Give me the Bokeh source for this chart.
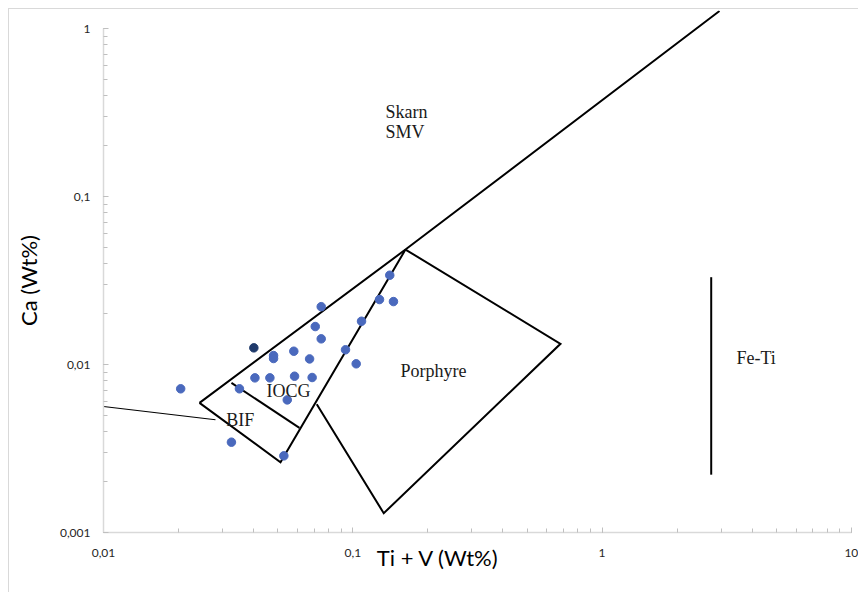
from bokeh.plotting import figure
from bokeh.models import Range1d, Label, CustomJSTickFormatter
from bokeh.embed import file_html
from bokeh.resources import INLINE

# ---- data: samples (Ti+V wt%, Ca wt%) ----
sample_tiv = [0.0204, 0.0326, 0.0351, 0.0405, 0.0465, 0.0481, 0.0481, 0.0529,
              0.0546, 0.0580, 0.0584, 0.0671, 0.0687, 0.0707, 0.0747, 0.0747,
              0.0935, 0.1032, 0.1084, 0.1280, 0.1456, 0.1407]
sample_ca = [0.00717, 0.00345, 0.00717, 0.00833, 0.00833, 0.01131, 0.01086, 0.00286,
             0.00616, 0.01200, 0.00852, 0.01080, 0.00837, 0.01683, 0.02210, 0.01422,
             0.01224, 0.01010, 0.01810, 0.02437, 0.02370, 0.03400]
dark_tiv = [0.0401]
dark_ca = [0.01257]

# ---- field boundaries ----
skarn_x = [0.02427, 0.1627, 2.958]
skarn_y = [0.005916, 0.04835, 1.27]
iocg_bif_x = [0.02427, 0.05129, 0.1627]
iocg_bif_y = [0.005916, 0.00262, 0.04835]
divider_x = [0.0326, 0.0611]
divider_y = [0.00778, 0.0042]
porphyre_x = [0.0717, 0.1331, 0.681, 0.1627]
porphyre_y = [0.0058, 0.001303, 0.01328, 0.04835]
bif_lead_x = [0.01, 0.02813]
bif_lead_y = [0.00562, 0.00469]
feti_x = [2.74, 2.74]
feti_y = [0.0331, 0.00221]

# ---- field names and anchor points ----
field_names = ["Skarn", "SMV", "Porphyre", "IOCG", "BIF", "Fe-Ti"]
field_x = [0.1353, 0.1353, 0.1553, 0.04506, 0.03106, 3.46]
field_y = [0.3176, 0.2414, 0.00921, 0.00691, 0.00469, 0.01096]

x_ticks = [0.01, 0.1, 1, 10]
y_ticks = [0.001, 0.01, 0.1, 1]
x_title = "Ti + V (Wt%)"
y_title = "Ca (Wt%)"

p = figure(width=850, height=584, x_axis_type="log", y_axis_type="log",
           x_range=Range1d(0.004646, 10.78), y_range=Range1d(0.000555, 1.28),
           output_backend="svg", toolbar_location=None,
           min_border_left=11, min_border_right=0, min_border_top=1,
           min_border_bottom=18)
p.styles = {"margin-left": "8px", "margin-top": "8px",
            "border-left": "1px solid #d9d9d9", "border-top": "1px solid #d9d9d9"}
p.outline_line_color = None
p.grid.visible = False
p.background_fill_color = "white"
p.border_fill_color = "white"

fmt = CustomJSTickFormatter(code="""
const s = Number(tick.toPrecision(6)).toString();
return s.replace('.', ',');
""")
for ax in (p.xaxis[0], p.yaxis[0]):
    ax.formatter = fmt
    ax.axis_line_color = "#d9d9d9"
    ax.axis_line_width = 1.5
    ax.major_tick_line_color = "#bfbfbf"
    ax.minor_tick_line_color = "#bfbfbf"
    ax.major_tick_in = 5
    ax.major_tick_out = 0
    ax.minor_tick_in = 4
    ax.minor_tick_out = 0
    ax.major_label_text_font = "Lato"
    ax.major_label_text_font_size = "12px"
    ax.major_label_text_color = "#262626"

p.xaxis.fixed_location = y_ticks[0]
p.yaxis.fixed_location = x_ticks[0]
p.xaxis.bounds = (x_ticks[0], x_ticks[-1])
p.yaxis.bounds = (y_ticks[0], y_ticks[-1])
p.xaxis.major_label_standoff = 16
p.yaxis.major_label_standoff = 13
p.yaxis.axis_label = y_title
p.yaxis.axis_label_text_font = "Lato"
p.yaxis.axis_label_text_font_size = "22px"
p.yaxis.axis_label_text_font_style = "normal"
p.yaxis.axis_label_text_color = "black"
p.yaxis.axis_label_standoff = 15

lw = 2
for xs, ys in [(skarn_x, skarn_y), (iocg_bif_x, iocg_bif_y), (divider_x, divider_y),
               (porphyre_x, porphyre_y), (feti_x, feti_y)]:
    p.line(xs, ys, line_color="black", line_width=lw, line_join="miter")
p.line(bif_lead_x, bif_lead_y, line_color="black", line_width=1.1)

p.scatter(sample_tiv, sample_ca, size=8.5, fill_color="#4a69bd", line_color="#4a69bd")
p.scatter(dark_tiv, dark_ca, size=8.5, fill_color="#1f3a6b", line_color="#1f3a6b")

for name, fx, fy in zip(field_names, field_x, field_y):
    p.add_layout(Label(x=fx, y=fy, text=name, text_font="Liberation Serif",
                       text_font_size="18px", text_color="#1a1a1a",
                       text_baseline="alphabetic", text_align="left"))

p.add_layout(Label(x=0.2197, y=0.00071, text=x_title,
                   text_font="Lato", text_font_size="22px", text_color="black",
                   text_align="center", text_baseline="middle"))

open("out.html", "w").write(file_html(p, INLINE))
